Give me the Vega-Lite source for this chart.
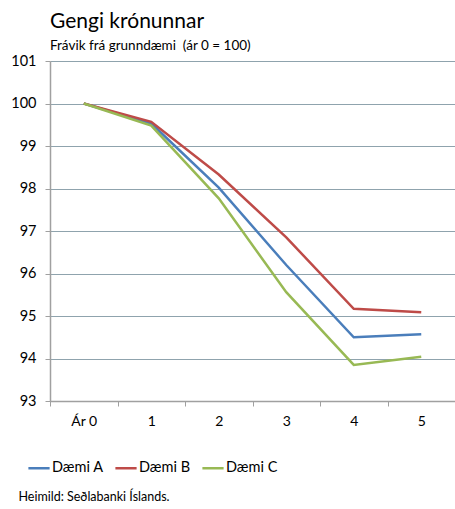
{
  "$schema": "https://vega.github.io/schema/vega-lite/v6.json",
  "width": 405,
  "height": 340,
  "autosize": {"type": "none"},
  "padding": {"left": 50, "top": 61, "right": 0, "bottom": 108},
  "background": "white",
  "title": {
    "text": "Gengi krónunnar",
    "subtitle": "Frávik frá grunndæmi \u00a0(ár 0 = 100)",
    "anchor": "start",
    "frame": "group",
    "font": "Lato",
    "fontSize": 21,
    "fontWeight": "normal",
    "color": "#000000",
    "subtitleFont": "Lato",
    "subtitleFontSize": 13.5,
    "subtitleColor": "#000000",
    "subtitlePadding": 7,
    "offset": 1,
    "dx": 0
  },
  "data": {
    "values": [
      {"ar": "Ár 0", "daemi": "Dæmi A", "gildi": 100},
      {"ar": "1", "daemi": "Dæmi A", "gildi": 99.53},
      {"ar": "2", "daemi": "Dæmi A", "gildi": 98.02},
      {"ar": "3", "daemi": "Dæmi A", "gildi": 96.2},
      {"ar": "4", "daemi": "Dæmi A", "gildi": 94.5},
      {"ar": "5", "daemi": "Dæmi A", "gildi": 94.57},
      {"ar": "Ár 0", "daemi": "Dæmi B", "gildi": 100},
      {"ar": "1", "daemi": "Dæmi B", "gildi": 99.57},
      {"ar": "2", "daemi": "Dæmi B", "gildi": 98.33},
      {"ar": "3", "daemi": "Dæmi B", "gildi": 96.85},
      {"ar": "4", "daemi": "Dæmi B", "gildi": 95.17},
      {"ar": "5", "daemi": "Dæmi B", "gildi": 95.09},
      {"ar": "Ár 0", "daemi": "Dæmi C", "gildi": 100},
      {"ar": "1", "daemi": "Dæmi C", "gildi": 99.48},
      {"ar": "2", "daemi": "Dæmi C", "gildi": 97.77},
      {"ar": "3", "daemi": "Dæmi C", "gildi": 95.56},
      {"ar": "4", "daemi": "Dæmi C", "gildi": 93.85},
      {"ar": "5", "daemi": "Dæmi C", "gildi": 94.04}
    ]
  },
  "mark": {"type": "line", "strokeWidth": 2.5},
  "encoding": {
    "x": {
      "field": "ar",
      "type": "nominal",
      "sort": ["Ár 0", "1", "2", "3", "4", "5"],
      "scale": {"type": "band", "paddingInner": 0, "paddingOuter": 0},
      "axis": {
        "title": "Heimild: Seðlabanki Íslands.",
        "titleFont": "Lato",
        "titleFontSize": 12.5,
        "titleFontWeight": "normal",
        "titleColor": "#000000",
        "titleAnchor": "start",
        "titleAlign": "left",
        "titleX": -32,
        "titleY": 89,
        "labelAngle": 0,
        "labelFont": "Lato",
        "labelFontSize": 14,
        "labelColor": "#000000",
        "labelPadding": 8,
        "tickBand": "extent",
        "tickColor": "#a0a0a0",
        "tickSize": 5,
        "domainColor": "#a0a0a0",
        "domainWidth": 1.5,
        "grid": false
      }
    },
    "y": {
      "field": "gildi",
      "type": "quantitative",
      "scale": {"domain": [93, 101], "zero": false, "nice": false},
      "axis": {
        "title": null,
        "values": [93, 94, 95, 96, 97, 98, 99, 100, 101],
        "labelFont": "Lato",
        "labelFontSize": 14.5,
        "labelColor": "#000000",
        "labelPadding": 9,
        "ticks": true,
        "tickSize": 5,
        "tickColor": "#a0a0a0",
        "domainColor": "#a0a0a0",
        "domainWidth": 1.5,
        "grid": true,
        "gridColor": "#8fa3ad",
        "gridWidth": 1.2
      }
    },
    "color": {
      "field": "daemi",
      "type": "nominal",
      "scale": {
        "domain": ["Dæmi A", "Dæmi B", "Dæmi C"],
        "range": ["#4a7ebb", "#be4b48", "#98b954"]
      },
      "legend": {
        "title": null,
        "orient": "none",
        "direction": "horizontal",
        "legendX": -23,
        "legendY": 395,
        "symbolType": "stroke",
        "symbolSize": 450,
        "symbolStrokeWidth": 2.5,
        "labelFont": "Lato",
        "labelFontSize": 14.5,
        "labelColor": "#000000",
        "labelOffset": 1,
        "columnPadding": 6
      }
    }
  },
  "config": {
    "view": {"stroke": null}
  }
}
